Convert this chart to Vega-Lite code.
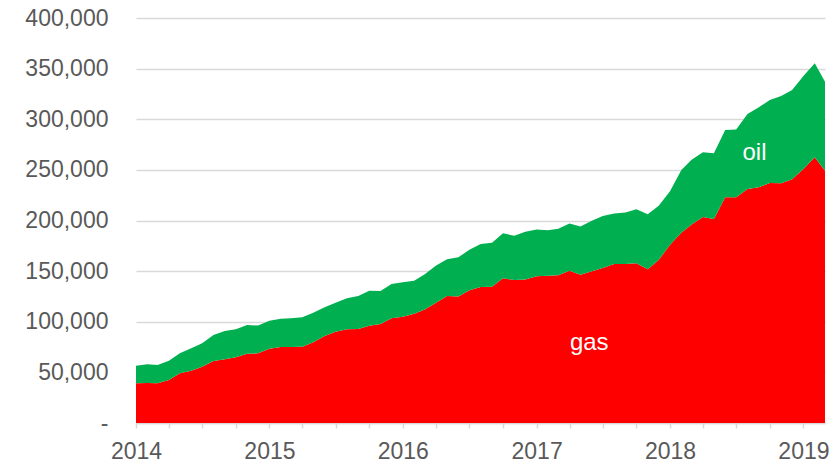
{
  "$schema": "https://vega.github.io/schema/vega-lite/v6.json",
  "width": 689,
  "height": 405,
  "autosize": {"type": "none"},
  "padding": {"left": 136, "top": 18, "right": 9, "bottom": 42},
  "background": "white",
  "config": {
    "view": {"stroke": null},
    "font": "Liberation Sans"
  },
  "datasets": {
    "series": [
      {"date": "2014-01-01", "gas": 39200, "oil": 17400},
      {"date": "2014-02-01", "gas": 39500, "oil": 18500},
      {"date": "2014-03-01", "gas": 39200, "oil": 18100},
      {"date": "2014-04-01", "gas": 42500, "oil": 19000},
      {"date": "2014-05-01", "gas": 49100, "oil": 19700},
      {"date": "2014-06-01", "gas": 51700, "oil": 22100},
      {"date": "2014-07-01", "gas": 55600, "oil": 23100},
      {"date": "2014-08-01", "gas": 61200, "oil": 25700},
      {"date": "2014-09-01", "gas": 62900, "oil": 28000},
      {"date": "2014-10-01", "gas": 64900, "oil": 27600},
      {"date": "2014-11-01", "gas": 68500, "oil": 28300},
      {"date": "2014-12-01", "gas": 68800, "oil": 27500},
      {"date": "2015-01-01", "gas": 73400, "oil": 27600},
      {"date": "2015-02-01", "gas": 75100, "oil": 27900},
      {"date": "2015-03-01", "gas": 75100, "oil": 28300},
      {"date": "2015-04-01", "gas": 75400, "oil": 29000},
      {"date": "2015-05-01", "gas": 79700, "oil": 29300},
      {"date": "2015-06-01", "gas": 85900, "oil": 28300},
      {"date": "2015-07-01", "gas": 90200, "oil": 28600},
      {"date": "2015-08-01", "gas": 92500, "oil": 30600},
      {"date": "2015-09-01", "gas": 92800, "oil": 32600},
      {"date": "2015-10-01", "gas": 96100, "oil": 34600},
      {"date": "2015-11-01", "gas": 97800, "oil": 32600},
      {"date": "2015-12-01", "gas": 103400, "oil": 33900},
      {"date": "2016-01-01", "gas": 105000, "oil": 34000},
      {"date": "2016-02-01", "gas": 108000, "oil": 32400},
      {"date": "2016-03-01", "gas": 112000, "oil": 35000},
      {"date": "2016-04-01", "gas": 118800, "oil": 36700},
      {"date": "2016-05-01", "gas": 125400, "oil": 36300},
      {"date": "2016-06-01", "gas": 125000, "oil": 38600},
      {"date": "2016-07-01", "gas": 131000, "oil": 40200},
      {"date": "2016-08-01", "gas": 134300, "oil": 42500},
      {"date": "2016-09-01", "gas": 134500, "oil": 43500},
      {"date": "2016-10-01", "gas": 142900, "oil": 44400},
      {"date": "2016-11-01", "gas": 141200, "oil": 43800},
      {"date": "2016-12-01", "gas": 141800, "oil": 47100},
      {"date": "2017-01-01", "gas": 145000, "oil": 46200},
      {"date": "2017-02-01", "gas": 145500, "oil": 44900},
      {"date": "2017-03-01", "gas": 146000, "oil": 45800},
      {"date": "2017-04-01", "gas": 150400, "oil": 46700},
      {"date": "2017-05-01", "gas": 146500, "oil": 47500},
      {"date": "2017-06-01", "gas": 150000, "oil": 49800},
      {"date": "2017-07-01", "gas": 153000, "oil": 51400},
      {"date": "2017-08-01", "gas": 157000, "oil": 50000},
      {"date": "2017-09-01", "gas": 157000, "oil": 51000},
      {"date": "2017-10-01", "gas": 157700, "oil": 53500},
      {"date": "2017-11-01", "gas": 151800, "oil": 54300},
      {"date": "2017-12-01", "gas": 161000, "oil": 53500},
      {"date": "2018-01-01", "gas": 176000, "oil": 53000},
      {"date": "2018-02-01", "gas": 188000, "oil": 62000},
      {"date": "2018-03-01", "gas": 196000, "oil": 64000},
      {"date": "2018-04-01", "gas": 203500, "oil": 63900},
      {"date": "2018-05-01", "gas": 201500, "oil": 64800},
      {"date": "2018-06-01", "gas": 222900, "oil": 66500},
      {"date": "2018-07-01", "gas": 222900, "oil": 67100},
      {"date": "2018-08-01", "gas": 231100, "oil": 74100},
      {"date": "2018-09-01", "gas": 232800, "oil": 79000},
      {"date": "2018-10-01", "gas": 237000, "oil": 82000},
      {"date": "2018-11-01", "gas": 236700, "oil": 86300},
      {"date": "2018-12-01", "gas": 240700, "oil": 88200},
      {"date": "2019-01-01", "gas": 250900, "oil": 91800},
      {"date": "2019-02-01", "gas": 262400, "oil": 92900},
      {"date": "2019-03-01", "gas": 249200, "oil": 87900}
    ],
    "labels": [
      {"date": "2018-08-20", "value": 267000, "label": "oil"},
      {"date": "2017-05-25", "value": 79000, "label": "gas"}
    ]
  },
  "layer": [
    {
      "data": {"name": "series"},
      "transform": [{"fold": ["gas", "oil"], "as": ["fuel", "amount"]}],
      "mark": {"type": "area", "interpolate": "linear"},
      "encoding": {
        "x": {
          "field": "date",
          "type": "temporal",
          "scale": {"type": "utc", "domain": [{"year": 2014, "month": 1, "date": 1, "utc": true}, {"year": 2019, "month": 3, "date": 1, "utc": true}]},
          "axis": {
            "title": null,
            "tickCount": {"interval": "month", "step": 3},
            "labelExpr": "utcmonth(datum.value) == 0 ? utcFormat(datum.value, '%Y') : ''",
            "labelFontSize": 23,
            "labelColor": "#595959",
            "labelPadding": 12,
            "labelFlush": false,
            "labelOverlap": false,
            "grid": false,
            "domainColor": "#d9d9d9",
            "domainWidth": 1.5,
            "tickColor": "#d9d9d9",
            "tickWidth": 1.5,
            "tickSize": 5
          }
        },
        "y": {
          "field": "amount",
          "type": "quantitative",
          "stack": "zero",
          "scale": {"domain": [0, 400000], "nice": false},
          "axis": {
            "title": null,
            "values": [0, 50000, 100000, 150000, 200000, 250000, 300000, 350000, 400000],
            "labelExpr": "datum.value == 0 ? '-' : format(datum.value, ',')",
            "labelFontSize": 23,
            "labelColor": "#595959",
            "labelPadding": 28,
            "ticks": false,
            "domain": false,
            "grid": true,
            "gridColor": "#d9d9d9",
            "gridWidth": 1.3
          }
        },
        "color": {
          "field": "fuel",
          "type": "nominal",
          "scale": {"domain": ["gas", "oil"], "range": ["#ff0000", "#00b050"]},
          "legend": null
        },
        "order": {"field": "fuel", "sort": "ascending"}
      }
    },
    {
      "data": {"name": "labels"},
      "mark": {"type": "text", "fontSize": 24, "color": "white", "align": "center", "baseline": "middle"},
      "encoding": {
        "x": {"field": "date", "type": "temporal"},
        "y": {"field": "value", "type": "quantitative"},
        "text": {"field": "label", "type": "nominal"}
      }
    }
  ]
}
